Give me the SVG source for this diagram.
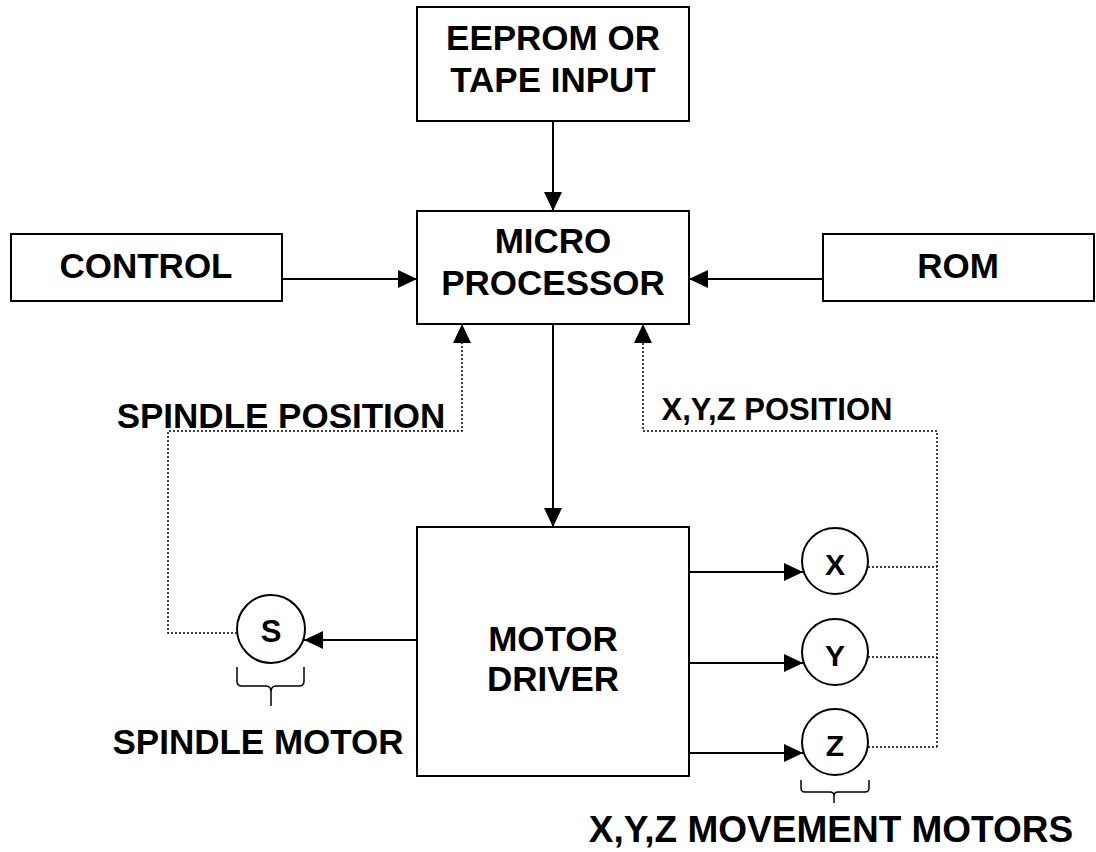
<svg xmlns="http://www.w3.org/2000/svg" width="1096" height="852" viewBox="0 0 1096 852">
<style>
.box{fill:#fff;stroke:#000;stroke-width:2}
.t{font-family:"Liberation Sans",Arial,sans-serif;font-weight:bold;font-size:35px;fill:#000;text-anchor:middle}
.ln{fill:none;stroke:#000;stroke-width:2}
.dot{fill:none;stroke:#000;stroke-width:1.5;stroke-dasharray:2,2}
</style>
<defs>
<marker id="ah" markerUnits="userSpaceOnUse" markerWidth="19" markerHeight="18" refX="19" refY="9" orient="auto">
<path d="M0,0 L19,9 L0,18 z" fill="#000"/>
</marker>
</defs>
<rect width="1096" height="852" fill="#fff"/>
<g id="connectors">
<path class="ln" d="M553,121 V211" marker-end="url(#ah)"/>
<path class="ln" d="M282,279 H417" marker-end="url(#ah)"/>
<path class="ln" d="M823,279 H689" marker-end="url(#ah)"/>
<path class="ln" d="M553,324 V527" marker-end="url(#ah)"/>
<path class="ln" d="M417,640 H304" marker-end="url(#ah)"/>
<path class="ln" d="M689,572 H803" marker-end="url(#ah)"/>
<path class="ln" d="M689,663 H803" marker-end="url(#ah)"/>
<path class="ln" d="M689,753 H803" marker-end="url(#ah)"/>
<path class="dot" d="M237,633 H168 V431 H462 V326"/>
<path d="M453,343 L462,324 L471,343 z" fill="#000"/>
<path class="dot" d="M868,567 H937 M868,657 H937 M868,747 H937 M937,747 V431 H643 V326"/>
<path d="M634,343 L643,324 L652,343 z" fill="#000"/>
</g>
<g id="eeprom"><rect class="box" x="417" y="7" width="272" height="114"/><text class="t" x="553" y="50">EEPROM OR</text><text class="t" x="553" y="92">TAPE INPUT</text></g>
<g id="micro"><rect class="box" x="417" y="211" width="272" height="113"/><text class="t" x="553" y="253">MICRO</text><text class="t" x="553" y="295">PROCESSOR</text></g>
<g id="control"><rect class="box" x="11" y="234" width="271" height="67"/><text class="t" x="146" y="278">CONTROL</text></g>
<g id="rom"><rect class="box" x="823" y="234" width="271" height="67"/><text class="t" x="958" y="278">ROM</text></g>
<g id="driver"><rect class="box" x="417" y="527" width="272" height="249"/><text class="t" x="553" y="651">MOTOR</text><text class="t" x="553" y="691">DRIVER</text></g>
<g id="motor-s"><circle class="box" cx="271" cy="629" r="34"/><text class="t" x="271" y="642" style="font-size:31px">S</text></g>
<g id="motor-x"><circle class="box" cx="835" cy="561" r="33"/><text class="t" x="835" y="575" style="font-size:30px">X</text></g>
<g id="motor-y"><circle class="box" cx="835" cy="652" r="33"/><text class="t" x="835" y="666" style="font-size:30px">Y</text></g>
<g id="motor-z"><circle class="box" cx="835" cy="742" r="33"/><text class="t" x="835" y="756" style="font-size:30px">Z</text></g>
<g id="spindle-position"><text class="t" x="281" y="428">SPINDLE POSITION</text></g>
<g id="xyz-position"><text class="t" x="777" y="420" style="font-size:31px">X,Y,Z POSITION</text></g>
<g id="spindle-motor-label">
<path class="ln" style="stroke-width:1.5" d="M237,667 V681 Q237,686 242,686 H266 Q271,686 271,692 V706 M271,692 Q271,686 276,686 H299 Q304,686 304,681 V667"/>
<text class="t" x="258" y="754">SPINDLE MOTOR</text>
</g>
<g id="xyz-motors-label">
<path class="ln" style="stroke-width:1.5" d="M801,780 V788 Q801,792 805,792 H830 Q834,792 834,796 V803 M834,796 Q834,792 838,792 H865 Q869,792 869,788 V780"/>
<text class="t" x="831" y="842" style="font-size:37px">X,Y,Z MOVEMENT MOTORS</text>
</g>
</svg>
